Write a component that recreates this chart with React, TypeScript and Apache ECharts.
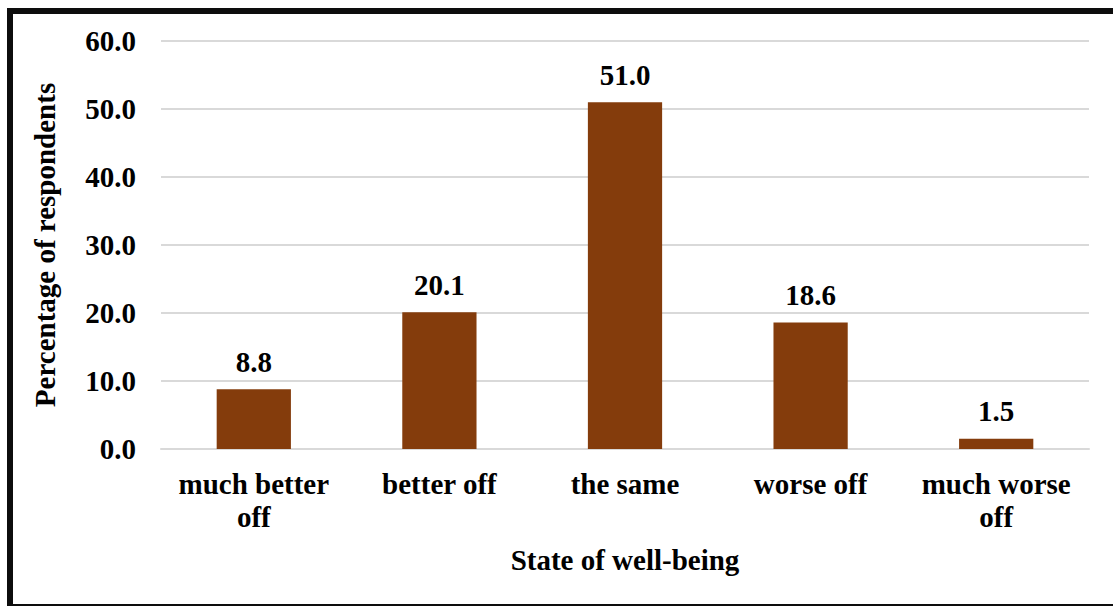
import React, { useEffect, useRef } from "react";
import * as echarts from "echarts";

const categories = ["much better\noff", "better off", "the same", "worse off", "much worse\noff"];
const values = [8.8, 20.1, 51.0, 18.6, 1.5];
const yTicks = { min: 0, max: 60, interval: 10 };
const xTitle = "State of well-being";
const yTitle = "Percentage of respondents";

const FONT = "'Liberation Serif', 'Times New Roman', serif";
const FS = 29;

export default function App() {
  const ref = useRef<HTMLDivElement>(null);
  useEffect(() => {
    document.body.style.margin = "0";
    const chart = echarts.init(ref.current!, null, { renderer: "svg" });
    chart.setOption({
      animation: false,
      backgroundColor: "#ffffff",
      textStyle: { fontFamily: FONT },
      grid: { left: 161, right: 24, top: 41, bottom: 157, containLabel: false },
      graphic: [
        { type: "rect", shape: { x: 7, y: 8, width: 6, height: 598 }, style: { fill: "#0d0d0d" } },
        { type: "rect", shape: { x: 7, y: 8, width: 1106, height: 6 }, style: { fill: "#0d0d0d" } },
        { type: "rect", shape: { x: 7, y: 604, width: 1106, height: 2 }, style: { fill: "#0d0d0d" } },
      ],
      xAxis: {
        type: "category",
        data: categories,
        name: xTitle,
        nameLocation: "middle",
        nameGap: 96,
        nameTextStyle: { fontFamily: FONT, fontWeight: "bold", fontSize: FS, color: "#000" },
        axisLine: { show: true, lineStyle: { color: "#d9d9d9", width: 2 } },
        axisTick: { show: false },
        axisLabel: {
          interval: 0,
          margin: 18,
          fontFamily: FONT,
          fontWeight: "bold",
          fontSize: FS,
          lineHeight: 33,
          color: "#000",
        },
      },
      yAxis: {
        type: "value",
        min: yTicks.min,
        max: yTicks.max,
        interval: yTicks.interval,
        name: yTitle,
        nameLocation: "middle",
        nameGap: 102,
        nameRotate: 90,
        nameTextStyle: { fontFamily: FONT, fontWeight: "bold", fontSize: FS, color: "#000" },
        axisLine: { show: false },
        axisTick: { show: false },
        axisLabel: {
          margin: 25,
          fontFamily: FONT,
          fontWeight: "bold",
          fontSize: FS,
          color: "#000",
          formatter: (v: number) => v.toFixed(1),
        },
        splitLine: { lineStyle: { color: "#d9d9d9", width: 2 } },
      },
      series: [
        {
          type: "bar",
          data: values,
          barCategoryGap: "60%",
          itemStyle: { color: "#843c0c" },
          label: {
            show: true,
            position: "top",
            distance: 13,
            fontFamily: FONT,
            fontWeight: "bold",
            fontSize: FS,
            color: "#000",
            formatter: (p: any) => Number(p.value).toFixed(1),
          },
        },
      ],
    });
    return () => chart.dispose();
  }, []);
  return <div ref={ref} style={{ width: 1113, height: 606 }} />;
}
